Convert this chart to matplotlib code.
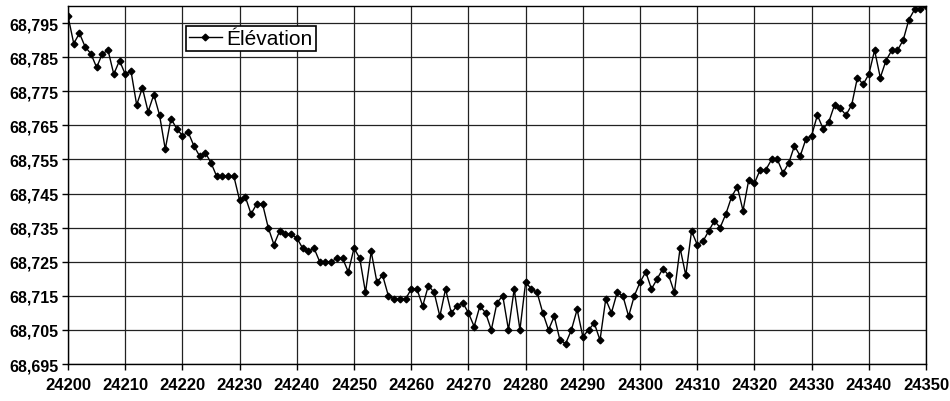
import matplotlib
matplotlib.use("Agg")
import matplotlib.pyplot as plt
from matplotlib.ticker import FuncFormatter

plt.rcParams['font.family'] = ['Liberation Sans', 'DejaVu Sans']

# Station (chainage) and surveyed elevation
station = list(range(24200, 24351))
elevation = [
    68.797, 68.789, 68.792, 68.788, 68.786, 68.782, 68.786, 68.787, 68.780, 68.784,
    68.780, 68.781, 68.771, 68.776, 68.769, 68.774, 68.768, 68.758, 68.767, 68.764,
    68.762, 68.763, 68.759, 68.756, 68.757, 68.754, 68.750, 68.750, 68.750, 68.750,
    68.743, 68.744, 68.739, 68.742, 68.742, 68.735, 68.730, 68.734, 68.733, 68.733,
    68.732, 68.729, 68.728, 68.729, 68.725, 68.725, 68.725, 68.726, 68.726, 68.722,
    68.729, 68.726, 68.716, 68.728, 68.719, 68.721, 68.715, 68.714, 68.714, 68.714,
    68.717, 68.717, 68.712, 68.718, 68.716, 68.709, 68.717, 68.710, 68.712, 68.713,
    68.710, 68.706, 68.712, 68.710, 68.705, 68.713, 68.715, 68.705, 68.717, 68.705,
    68.719, 68.717, 68.716, 68.710, 68.705, 68.709, 68.702, 68.701, 68.705, 68.711,
    68.703, 68.705, 68.707, 68.702, 68.714, 68.710, 68.716, 68.715, 68.709, 68.715,
    68.719, 68.722, 68.717, 68.720, 68.723, 68.721, 68.716, 68.729, 68.721, 68.734,
    68.730, 68.731, 68.734, 68.737, 68.735, 68.739, 68.744, 68.747, 68.740, 68.749,
    68.748, 68.752, 68.752, 68.755, 68.755, 68.751, 68.754, 68.759, 68.756, 68.761,
    68.762, 68.768, 68.764, 68.766, 68.771, 68.770, 68.768, 68.771, 68.779, 68.777,
    68.780, 68.787, 68.779, 68.784, 68.787, 68.787, 68.790, 68.796, 68.799, 68.799,
    68.800,
]
x_ticks = list(range(24200, 24351, 10))
y_ticks = [68.695, 68.705, 68.715, 68.725, 68.735, 68.745, 68.755, 68.765, 68.775, 68.785, 68.795]

fig = plt.figure(figsize=(9.5, 4.02), dpi=100)
ax = fig.add_axes([0.0716, 0.092, 0.9032, 0.8906])

ax.plot(station, elevation, color='black', linewidth=1.0, marker='D',
        markersize=3.4, markerfacecolor='black', markeredgecolor='black',
        label='Élévation', zorder=3)

ax.set_xlim(24200, 24350)
ax.set_ylim(68.695, 68.800)
ax.set_xticks(x_ticks)
ax.set_yticks(y_ticks)
ax.yaxis.set_major_formatter(FuncFormatter(lambda v, p: f"{v:.3f}".replace('.', ',')))

ax.grid(True, color='#222222', linewidth=0.9)
ax.set_axisbelow(True)
for s in ax.spines.values():
    s.set_color('black')
    s.set_linewidth(1.0)

ax.tick_params(axis='both', direction='out', length=4, width=1, colors='black')
ax.tick_params(axis='x', labelsize=12, pad=5)
ax.tick_params(axis='y', labelsize=11.5, pad=3)
for lab in ax.get_xticklabels() + ax.get_yticklabels():
    lab.set_fontweight('bold')

leg = ax.legend(loc='upper left', bbox_to_anchor=(0.137, 0.945), fontsize=15,
                frameon=True, fancybox=False, shadow=False, borderpad=0.15,
                handlelength=1.6, handletextpad=0.2, borderaxespad=0)
leg.get_frame().set_edgecolor('black')
leg.get_frame().set_linewidth(1.2)
leg.get_frame().set_alpha(1)

fig.savefig('out.png', dpi=100)
